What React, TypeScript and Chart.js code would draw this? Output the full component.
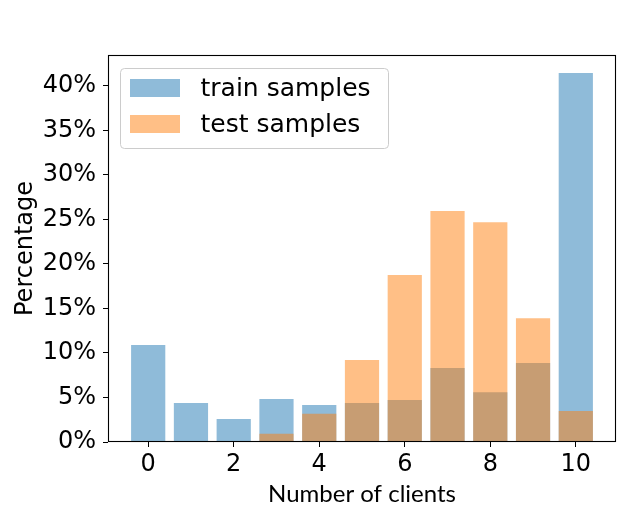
import React, { useEffect, useRef } from 'react';
import { Chart, registerables } from 'chart.js';

Chart.register(...registerables);

const clients = [0, 1, 2, 3, 4, 5, 6, 7, 8, 9, 10];
const trainPct = [10.9, 4.38, 2.58, 4.83, 4.16, 4.38, 4.72, 8.31, 5.6, 8.88, 41.46];
const testPct = [0, 0, 0.1, 0.93, 3.18, 9.21, 18.76, 25.96, 24.7, 13.9, 3.48];
const xTickValues = [0, 2, 4, 6, 8, 10];
const yTickValues = [0, 5, 10, 15, 20, 25, 30, 35, 40];
const seriesLabels = ['train samples', 'test samples'];
const xTitle = 'Number of clients';
const yTitle = 'Percentage';

const TRAIN_COLOR = 'rgba(31,119,180,0.5)';
const TEST_COLOR = 'rgba(255,127,14,0.5)';

const framePlugin = {
  id: 'frame',
  afterDatasetsDraw(chart: any) {
    const { ctx, chartArea } = chart;
    const l = Math.round(chartArea.left) + 0.5;
    const r = Math.round(chartArea.right) - 0.5;
    const t = Math.round(chartArea.top) + 0.5;
    const b = Math.round(chartArea.bottom) - 0.5;
    ctx.save();
    ctx.strokeStyle = '#000';
    ctx.lineWidth = 1.1;
    ctx.strokeRect(l, t, r - l, b - t);
    ctx.restore();
  },
};

const legendPlugin = {
  id: 'boxLegend',
  afterDraw(chart: any) {
    const { ctx, chartArea } = chart;
    const x0 = chartArea.left + 12.5;
    const y0 = chartArea.top + 13.5;
    const w = 268;
    const h = 80;
    const rad = 4;
    ctx.save();
    ctx.beginPath();
    ctx.moveTo(x0 + rad, y0);
    ctx.lineTo(x0 + w - rad, y0);
    ctx.arcTo(x0 + w, y0, x0 + w, y0 + rad, rad);
    ctx.lineTo(x0 + w, y0 + h - rad);
    ctx.arcTo(x0 + w, y0 + h, x0 + w - rad, y0 + h, rad);
    ctx.lineTo(x0 + rad, y0 + h);
    ctx.arcTo(x0, y0 + h, x0, y0 + h - rad, rad);
    ctx.lineTo(x0, y0 + rad);
    ctx.arcTo(x0, y0, x0 + rad, y0, rad);
    ctx.closePath();
    ctx.fillStyle = 'rgba(255,255,255,0.8)';
    ctx.fill();
    ctx.strokeStyle = '#cccccc';
    ctx.lineWidth = 1;
    ctx.stroke();
    chart.data.datasets.forEach((ds: any, i: number) => {
      const cy = y0 + 19.5 + i * 36;
      ctx.fillStyle = ds.backgroundColor;
      ctx.fillRect(x0 + 9.5, cy - 9, 50, 18);
      ctx.fillStyle = '#000';
      ctx.font = '25px "DejaVu Sans"';
      ctx.textBaseline = 'middle';
      ctx.textAlign = 'left';
      ctx.fillText(ds.label, x0 + 80, cy + 1);
    });
    ctx.restore();
  },
};

export default function App() {
  const canvasRef = useRef<HTMLCanvasElement | null>(null);

  useEffect(() => {
    document.body.style.margin = '0';
    const canvas = canvasRef.current;
    if (!canvas) return;
    const chart = new Chart(canvas, {
      type: 'bar',
      data: {
        datasets: [
          {
            label: seriesLabels[0],
            data: clients.map((c, i) => ({ x: c, y: trainPct[i] })),
            backgroundColor: TRAIN_COLOR,
            borderWidth: 0,
            order: 1,
            grouped: false,
            categoryPercentage: 1,
            barPercentage: 0.8,
          } as any,
          {
            label: seriesLabels[1],
            data: clients.map((c, i) => ({ x: c, y: testPct[i] })),
            backgroundColor: TEST_COLOR,
            borderWidth: 0,
            order: 0,
            grouped: false,
            categoryPercentage: 1,
            barPercentage: 0.8,
          } as any,
        ],
      },
      options: {
        responsive: false,
        animation: false,
        devicePixelRatio: 1,
        layout: { padding: { left: 0, right: 24, top: 55, bottom: 0 } },
        plugins: {
          legend: { display: false },
          tooltip: { enabled: false },
        },
        scales: {
          x: {
            type: 'linear',
            min: -0.94,
            max: 10.94,
            offset: false,
            grid: {
              display: true,
              offset: false,
              drawOnChartArea: false,
              drawTicks: true,
              tickLength: 5,
              tickColor: '#000',
              lineWidth: 1,
            },
            border: { display: false },
            ticks: {
              color: '#000',
              font: { family: 'DejaVu Sans', size: 24 },
              padding: 3,
              maxRotation: 0,
              autoSkip: false,
              callback: (v: any) => String(v),
            },
            afterBuildTicks: (scale: any) => {
              scale.ticks = xTickValues.map((v) => ({ value: v }));
            },
            afterFit: (scale: any) => {
              scale.height = 85;
            },
            title: {
              display: true,
              text: xTitle,
              color: '#000',
              font: { family: 'Lato', size: 24 },
              padding: { top: 0, bottom: 18 },
            },
          },
          y: {
            type: 'linear',
            min: 0,
            max: 43.48,
            grid: {
              display: true,
              drawOnChartArea: false,
              drawTicks: true,
              tickLength: 5,
              tickColor: '#000',
              lineWidth: 1,
            },
            border: { display: false },
            ticks: {
              color: '#000',
              font: { family: 'DejaVu Sans', size: 24 },
              padding: 7,
              autoSkip: false,
              callback: (v: any) => v + '%',
            },
            afterBuildTicks: (scale: any) => {
              scale.ticks = yTickValues.map((v) => ({ value: v }));
            },
            afterFit: (scale: any) => {
              scale.width = 108;
            },
            title: {
              display: true,
              text: yTitle,
              color: '#000',
              font: { family: 'DejaVu Sans', size: 24 },
              padding: { top: 11, bottom: 0 },
            },
          },
        },
      } as any,
      plugins: [framePlugin, legendPlugin],
    });
    return () => chart.destroy();
  }, []);

  return (
    <div style={{ position: 'fixed', left: 0, top: 0, width: 640, height: 527, background: '#fff' }}>
      <canvas ref={canvasRef} width={640} height={527} style={{ display: 'block' }} />
    </div>
  );
}
